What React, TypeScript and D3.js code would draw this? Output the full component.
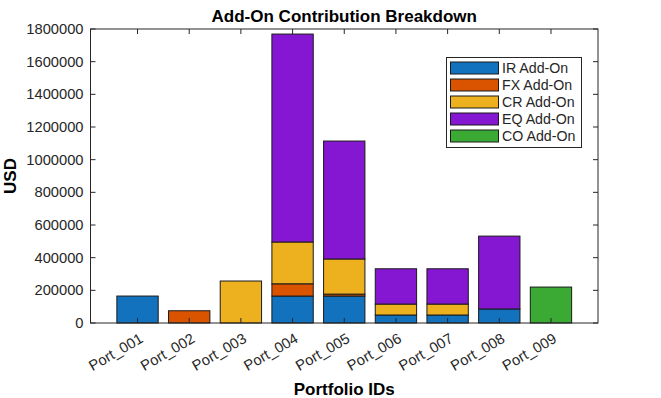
import React from 'react';
import * as d3 from 'd3';

const portfolios = ['Port_001', 'Port_002', 'Port_003', 'Port_004', 'Port_005', 'Port_006', 'Port_007', 'Port_008', 'Port_009'];
const seriesNames = ['IR Add-On', 'FX Add-On', 'CR Add-On', 'EQ Add-On', 'CO Add-On'];
const seriesColors = ['#1372BE', '#DA5400', '#EDB120', '#8516D1', '#3AAA35'];

const irValues = [165000, 0, 0, 165000, 165000, 49000, 49000, 86000, 0];
const fxValues = [0, 75000, 0, 75000, 12000, 0, 0, 0, 0];
const crValues = [0, 0, 257000, 256000, 215000, 67000, 67000, 0, 0];
const eqValues = [0, 0, 0, 1273000, 722000, 216000, 216000, 446000, 0];
const coValues = [0, 0, 0, 0, 0, 0, 0, 0, 220000];

const yTicks = [0, 200000, 400000, 600000, 800000, 1000000, 1200000, 1400000, 1600000, 1800000];

const W = 661;
const H = 398;
const left = 90.5;
const right = 598;
const top = 29;
const bottom = 323;

export default function App() {
  const allSeries = [irValues, fxValues, crValues, eqValues, coValues];
  const rows = portfolios.map((p, i) => {
    const r: any = { name: p, idx: i + 1 };
    seriesNames.forEach((s, j) => { r[s] = allSeries[j][i]; });
    return r;
  });
  const stacked = d3.stack().keys(seriesNames)(rows);

  const x = d3.scaleLinear().domain([0.09, 9.91]).range([left, right]);
  const y = d3.scaleLinear().domain([0, 1800000]).range([bottom, top]);
  const barW = x(0.8) - x(0);
  const textColor = '#262626';
  const font = 'Arial, "Liberation Sans", Helvetica, sans-serif';

  return (
    <svg width={W} height={H} style={{ position: 'absolute', left: 0, top: 0, fontFamily: font }}>
      <rect x={0} y={0} width={W} height={H} fill="#fff" />
      {stacked.map((layer, j) => (
        <g key={j}>
          {layer.map((d, i) => {
            if (d[1] - d[0] <= 0) return null;
            return (
              <rect
                key={i}
                x={x(i + 1) - barW / 2}
                y={y(d[1])}
                width={barW}
                height={y(d[0]) - y(d[1])}
                fill={seriesColors[j]}
                stroke="#1a1a1a"
                strokeWidth={1}
              />
            );
          })}
        </g>
      ))}
      {/* axes box */}
      <rect x={left} y={top} width={right - left} height={bottom - top} fill="none" stroke="#262626" strokeWidth={1} />
      {yTicks.map((t, i) => (
        <g key={i}>
          <line x1={left} x2={left + 5} y1={y(t)} y2={y(t)} stroke="#262626" />
          <line x1={right - 5} x2={right} y1={y(t)} y2={y(t)} stroke="#262626" />
          <text x={left - 7} y={y(t)} dy="0.35em" textAnchor="end" fontSize={14.7} fill={textColor}>{t}</text>
        </g>
      ))}
      {portfolios.map((p, i) => (
        <g key={p}>
          <line x1={x(i + 1)} x2={x(i + 1)} y1={bottom} y2={bottom - 5} stroke="#262626" />
          <line x1={x(i + 1)} x2={x(i + 1)} y1={top} y2={top + 5} stroke="#262626" />
          <text
            transform={`translate(${x(i + 1) + 4},${bottom + 14}) rotate(-30)`}
            textAnchor="end"
            dy="0.35em"
            fontSize={14.7}
            fill={textColor}
          >
            {p}
          </text>
        </g>
      ))}
      <text x={(left + right) / 2} y={22} textAnchor="middle" fontSize={17} fontWeight="bold" fill="#000">Add-On Contribution Breakdown</text>
      <text x={(left + right) / 2} y={395} textAnchor="middle" fontSize={17} fontWeight="bold" fill="#000">Portfolio IDs</text>
      <text transform={`translate(16,${(top + bottom) / 2}) rotate(-90)`} textAnchor="middle" fontSize={17} fontWeight="bold" fill="#000">USD</text>
      {/* legend */}
      <g>
        <rect x={446.5} y={57.5} width={135} height={90} fill="#fff" stroke="#262626" />
        {seriesNames.map((s, j) => (
          <g key={s} transform={`translate(0,${68 + j * 17})`}>
            <rect x={450.5} y={-6} width={48} height={12} fill={seriesColors[j]} stroke="#1a1a1a" />
            <text x={502} y={0} dy="0.35em" fontSize={14.2} fill={textColor}>{s}</text>
          </g>
        ))}
      </g>
    </svg>
  );
}
